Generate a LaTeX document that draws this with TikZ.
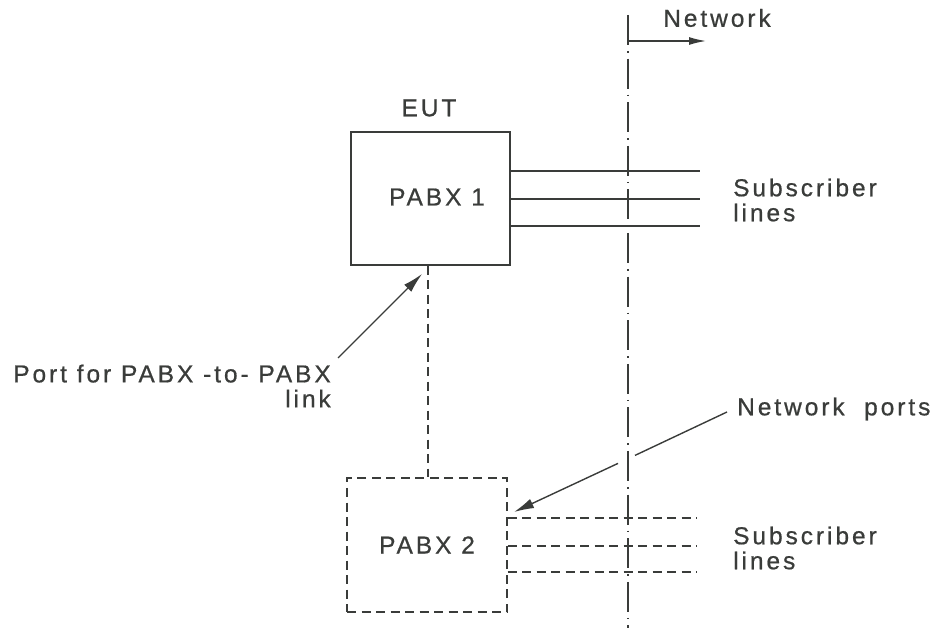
\documentclass[tikz,border=0pt]{standalone}
\usepackage{fontspec}
\setmainfont{Liberation Sans}[LetterSpace=12, FakeBold=0.7]
\usetikzlibrary{arrows.meta}
\definecolor{ink}{RGB}{58,60,58}
\tikzset{
  every node/.style={text=ink, font=\fontsize{24.5}{25}\selectfont},
  ln/.style={draw=ink, line width=1.4pt},
  dsh/.style={ln, dash pattern=on 9pt off 5.5pt},
  dashdot/.style={ln, dash pattern=on 30pt off 6pt on 1.6pt off 6pt},
  solidbox/.style={ln, minimum width=159pt, minimum height=133pt, inner sep=0pt},
  dashbox/.style={dsh, minimum width=160pt, minimum height=134pt, inner sep=0pt},
  tip/.style={-{Latex[length=20pt,width=10pt]}},
  lbl/.style={inner sep=0pt}
}
\begin{document}
\begin{tikzpicture}[x=1pt,y=-1pt]
\useasboundingbox (0,0) rectangle (946,628);

% network boundary
\coordinate (netTop) at (628,15);
\coordinate (netBot) at (628,628);
\draw[dashdot] (netTop) -- (netBot);
\coordinate (netA) at (628,41);
\coordinate (netB) at (706,41);
\draw[ln, -{Latex[length=17pt,width=8pt]}] (netA) -- (netB);
\node[lbl] (network) at (717,18) {Network};

% PABX 1
\node[lbl] (eut) at (429,108) {EUT};
\node[solidbox] (p1) at (430.5,198.5) {};
\node[lbl] (p1t) at (437,197) {PABX 1};
\coordinate (s1a) at (700,171);
\coordinate (s1b) at (700,199);
\coordinate (s1c) at (700,226);
\draw[ln] (p1.east |- s1a) -- (s1a);
\draw[ln] (p1.east |- s1b) -- (s1b);
\draw[ln] (p1.east |- s1c) -- (s1c);
\node[lbl, anchor=west, align=left] (sub1) at (733,200) {Subscriber\\lines};

% PABX 2
\node[dashbox] (p2) at (427,545) {PABX 2};
\draw[dsh] (p1.south -| 428,0) -- (p2.north -| 428,0);
\coordinate (s2a) at (697,518);
\coordinate (s2b) at (697,546);
\coordinate (s2c) at (697,572);
\draw[dsh] (p2.east |- s2a) -- (s2a);
\draw[dsh] (p2.east |- s2b) -- (s2b);
\draw[dsh] (p2.east |- s2c) -- (s2c);
\node[lbl, anchor=west, align=left] (sub2) at (733,548) {Subscriber\\lines};

% Port label
\node[lbl, anchor=east, align=right] (port) at (331,386) {Port for PABX -to- PABX\\link};
\coordinate (portA) at (338,358);
\coordinate (portTip) at (422,274);
\draw[ln, tip] (portA) -- (portTip);

% Network ports label
\node[lbl, anchor=west] (np) at (737,409) {Network\ \ ports};
\coordinate (npA) at (727,412);
\coordinate (npG1) at (635,455.4);
\coordinate (npG2) at (618,463.4);
\coordinate (npTip) at (514,512);
\draw[ln] (npA) -- (npG1);
\draw[ln, tip] (npG2) -- (npTip);
\end{tikzpicture}
\end{document}
